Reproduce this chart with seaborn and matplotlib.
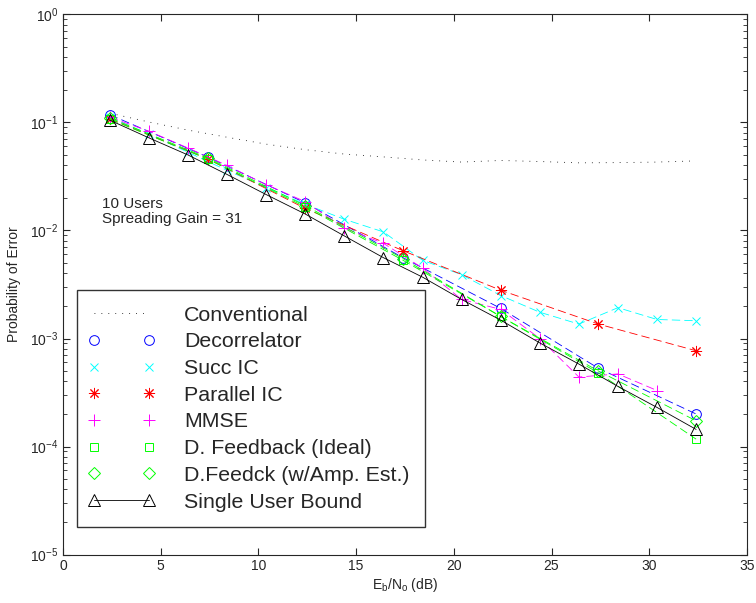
import numpy as np
import pandas as pd
import matplotlib
matplotlib.use("Agg")
import matplotlib.pyplot as plt
from matplotlib.lines import Line2D
from matplotlib.legend_handler import HandlerLine2D
import seaborn as sns

# Eb/No grids (dB)
x_2db = [2.4, 4.4, 6.4, 8.4, 10.4, 12.4, 14.4, 16.4, 18.4, 20.4, 22.4, 24.4, 26.4, 28.4, 30.4, 32.4]
x_5db = [2.4, 7.4, 12.4, 17.4, 22.4, 27.4, 32.4]
x_mmse = x_2db[:-1]
x_conv = x_2db[:-1] + [32.2]

# values
conventional = [0.122, 0.101, 0.085, 0.073, 0.063, 0.056, 0.051, 0.048, 0.045, 0.043,
                0.0445, 0.0435, 0.0423, 0.0425, 0.043, 0.044]
decorrelator = [0.118, 0.048, 0.018, 0.0056, 0.0019, 0.00053, 0.0002]
succ_ic = [0.112, 0.078, 0.053, 0.036, 0.025, 0.0175, 0.0127, 0.0097, 0.0053, 0.0039,
           0.0025, 0.00175, 0.00136, 0.00193, 0.0015, 0.00146]
parallel_ic = [0.108, 0.046, 0.016, 0.0065, 0.0028, 0.00136, 0.00077]
mmse = [0.112, 0.083, 0.058, 0.040, 0.0265, 0.0185, 0.0105, 0.0076, 0.0045, 0.0023,
        0.00186, 0.001, 0.00044, 0.00047, 0.00033]
dfb_ideal = [0.107, 0.046, 0.0165, 0.0053, 0.0016, 0.00048, 0.000117]
dfb_amp = [0.110, 0.047, 0.017, 0.0055, 0.0016, 0.0005, 0.000173]
single_user = [0.105, 0.072, 0.050, 0.033, 0.0215, 0.0142, 0.0089, 0.0056, 0.0037, 0.0023,
               0.00148, 0.00091, 0.00058, 0.00036, 0.00023, 0.000144]

labels = ['Conventional', 'Decorrelator', 'Succ IC', 'Parallel IC', 'MMSE',
          'D. Feedback (Ideal)', 'D.Feedck (w/Amp. Est.)', 'Single User Bound']

sns.set_style("ticks")
plt.rcParams['font.family'] = ['Liberation Sans', 'DejaVu Sans']
plt.rcParams['mathtext.fontset'] = 'custom'
plt.rcParams['mathtext.rm'] = 'Liberation Sans'
plt.rcParams['mathtext.it'] = 'Liberation Sans'
plt.rcParams['lines.scale_dashes'] = False

fig, ax = plt.subplots(figsize=(7.56, 6.03), dpi=100)
fig.subplots_adjust(left=0.0833, right=0.988, bottom=0.0804, top=0.976)

dash = (0, (6, 3))
dot = (0, (0.6, 4.4))
series = [
    (x_conv, conventional, '#000000', None, dot),
    (x_5db, decorrelator, '#0000ff', 'o', dash),
    (x_2db, succ_ic, '#00ffff', 'x', dash),
    (x_5db, parallel_ic, '#ff0000', (8, 2, 0), dash),
    (x_mmse, mmse, '#ff00ff', '+', dash),
    (x_5db, dfb_ideal, '#00ff00', 's', dash),
    (x_5db, dfb_amp, '#00ff00', 'D', dash),
    (x_2db, single_user, '#000000', '^', '-'),
]
sizes = {'o': 7, 'x': 6, (8, 2, 0): 8, '+': 9, 's': 6, 'D': 6, '^': 8}

handles = []
for (xs, ys, col, mk, ls), lab in zip(series, labels):
    df = pd.DataFrame({'x': xs, 'y': ys})
    kw = dict(color=col, linewidth=0.6, linestyle=ls)
    if mk is not None:
        kw.update(marker=mk, ms=sizes[mk], mfc='none', mec=col, mew=0.7)
    sns.lineplot(data=df, x='x', y='y', ax=ax, legend=False, **kw)
    hk = dict(kw)
    if ls != '-' and mk is not None:
        hk['linestyle'] = 'none'
    handles.append(Line2D([], [], label=lab, **hk))

ax.set_yscale('log')
ax.set_xlim(0, 35)
ax.set_ylim(1e-5, 1)
ax.set_xticks(range(0, 36, 5))
ax.tick_params(which='both', direction='in', top=True, right=True, labelsize=10)
ax.tick_params(which='major', length=5)
ax.tick_params(which='minor', length=3)
for s in ax.spines.values():
    s.set_linewidth(0.8)

ax.set_xlabel(r'E$_\mathregular{b}$/N$_\mathregular{o}$ (dB)', fontsize=10, labelpad=2)
ax.set_ylabel('Probability of Error', fontsize=10, labelpad=6)

ax.text(2.0, 0.0205, '10 Users\nSpreading Gain = 31', fontsize=11, va='top', ha='left',
        linespacing=1.15)

# markers close to the ends of each legend sample
hmap = {h: HandlerLine2D(marker_pad=0.08) for h in handles}
leg = ax.legend(handles=handles, loc='lower left', bbox_to_anchor=(0.0205, 0.051),
                borderaxespad=0, fontsize=15.4, numpoints=2, handlelength=2.73,
                handletextpad=1.55, labelspacing=0.36, borderpad=0.72,
                handler_map=hmap, frameon=True, fancybox=False, edgecolor='k')
leg.get_frame().set_linewidth(1.0)

fig.savefig('out.png', dpi=100)
